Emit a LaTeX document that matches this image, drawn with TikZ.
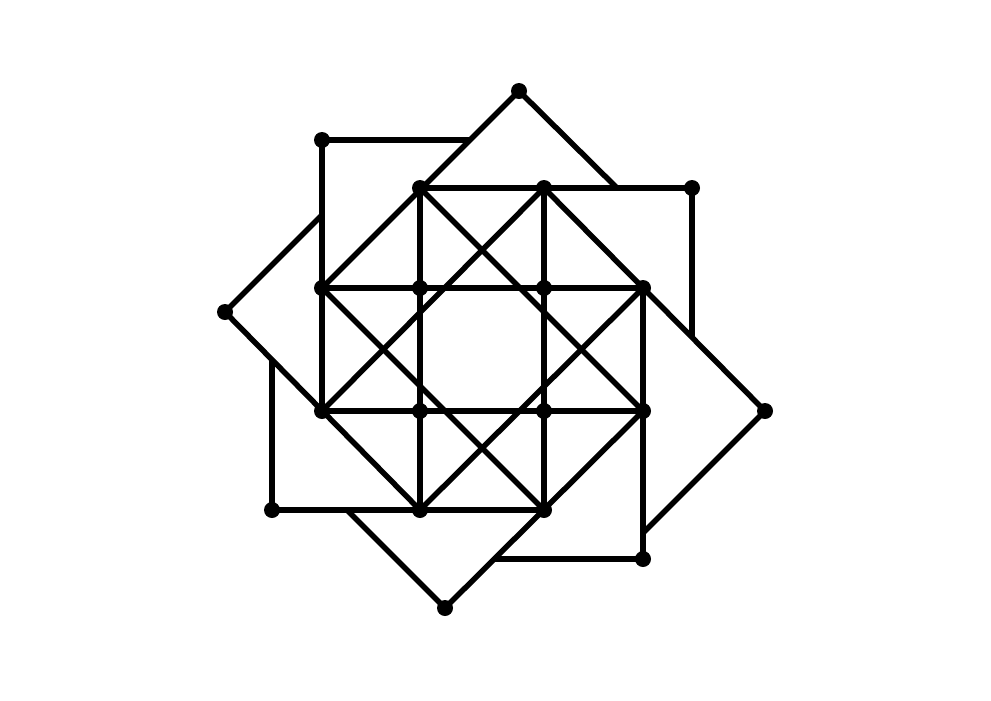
\documentclass[tikz,border=0pt]{standalone}
\begin{document}
\begin{tikzpicture}[x=0.025cm,y=-0.025cm,
  edge/.style={line width=3.9pt, black},
  dot/.style={circle, fill=black, inner sep=0pt, minimum size=0.4cm}]
\useasboundingbox (0,0) rectangle (991,700);
% octagon and inner points
\coordinate (o1) at (420,188);
\coordinate (o2) at (544,188);
\coordinate (o3) at (643,288);
\coordinate (o4) at (643,411);
\coordinate (o5) at (544,510);
\coordinate (o6) at (420,510);
\coordinate (o7) at (322,411);
\coordinate (o8) at (322,288);
\coordinate (i1) at (420,288);
\coordinate (i2) at (544,288);
\coordinate (i3) at (544,411);
\coordinate (i4) at (420,411);
% outer points
\coordinate (p1) at (519,91);
\coordinate (p2) at (692,188);
\coordinate (p3) at (765,411);
\coordinate (p4) at (643,559);
\coordinate (p5) at (445,608);
\coordinate (p6) at (272,510);
\coordinate (p7) at (225,312);
\coordinate (p8) at (322,140);
% stub ends
\coordinate (s1) at (617,188);
\coordinate (s2) at (692,337);
\coordinate (s3) at (643,533);
\coordinate (s4) at (494,559);
\coordinate (s5) at (347,510);
\coordinate (s6) at (272,359);
\coordinate (s7) at (322,215);
\coordinate (s8) at (470,140);
% long arms
\draw[edge] (p1) -- (o8);
\draw[edge] (p2) -- (o1);
\draw[edge] (p3) -- (o2);
\draw[edge] (p4) -- (o3);
\draw[edge] (p5) -- (o4);
\draw[edge] (p6) -- (o5);
\draw[edge] (p7) -- (o6);
\draw[edge] (p8) -- (o7);
% stubs
\draw[edge] (p1) -- (s1);
\draw[edge] (p2) -- (s2);
\draw[edge] (p3) -- (s3);
\draw[edge] (p4) -- (s4);
\draw[edge] (p5) -- (s5);
\draw[edge] (p6) -- (s6);
\draw[edge] (p7) -- (s7);
\draw[edge] (p8) -- (s8);
% inner grid
\draw[edge] (o1) -- (o6);
\draw[edge] (o2) -- (o5);
\draw[edge] (o8) -- (o3);
\draw[edge] (o7) -- (o4);
% inner diagonals
\draw[edge] (o1) -- (o4);
\draw[edge] (o2) -- (o7);
\draw[edge] (o8) -- (o5);
\draw[edge] (o3) -- (o6);
% dots
\foreach \n in {o1,o2,o3,o4,o5,o6,o7,o8,i1,i2,i3,i4,p1,p2,p3,p4,p5,p6,p7,p8}
  \node[dot] (d\n) at (\n) {};
\end{tikzpicture}
\end{document}
